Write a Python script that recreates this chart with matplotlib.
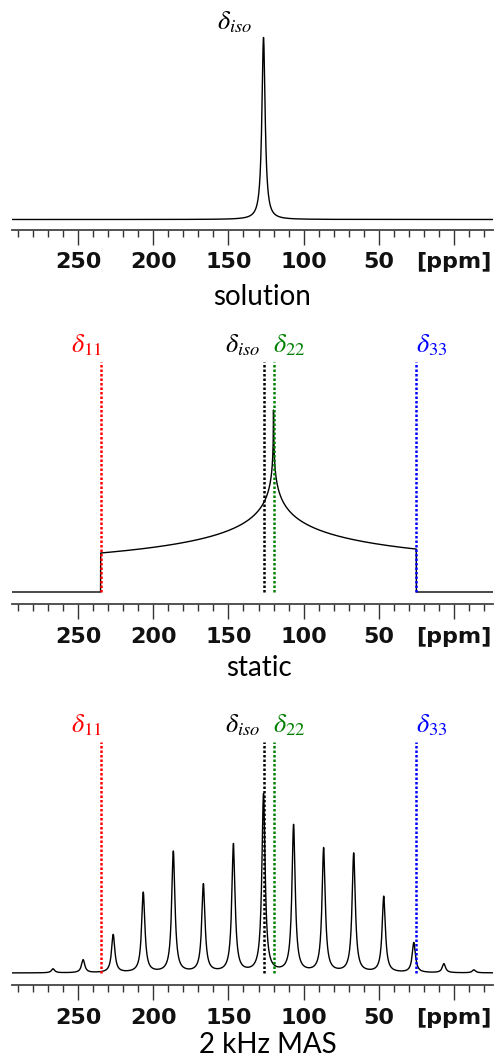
import numpy as np
import matplotlib
matplotlib.use("Agg")
from matplotlib import pyplot as plt

# principal components of the chemical shift tensor [ppm]
d11 = 235.0
d22 = 120.0
d33 = 25.0
d_iso = (d11 + d22 + d33) / 3.0

# solution peak height (arbitrary units)
sol_height = 182.0

# static powder pattern: height at the d11 edge and the clipped top at d22
static_edge = 39.0
static_top = 182.0

# 2 kHz MAS spinning sidebands: order and height
sb_spacing = 20.0  # ppm, 2 kHz
sb_order = [7, 6, 5, 4, 3, 2, 1, 0, -1, -2, -3, -4, -5, -6, -7]
sb_height = [4, 13, 38, 80, 121, 88, 128, 178, 147, 124, 119, 76, 30, 9, 3]

tick_pos = [250, 200, 150, 100, 50, 0]
tick_lab = ["250", "200", "150", "100", "50", "[ppm]"]
titles = ["solution", "static", "2 kHz MAS"]

W, H = 498, 1063
x_left, x_right = 294.0, -26.0
lw_ppm = 1.3


def lorentz(x, x0, h, w):
    return h / (1.0 + ((x - x0) / w) ** 2)


def ellipk(m):
    a = np.ones_like(m)
    b = np.sqrt(1.0 - m)
    for _ in range(60):
        a, b = (a + b) / 2.0, np.sqrt(a * b)
    return np.pi / (2.0 * a)


def powder(x, s11, s22, s33):
    out = np.zeros_like(x)
    with np.errstate(divide="ignore", invalid="ignore"):
        hi = (x <= s11) & (x >= s22)
        m = (s11 - x[hi]) * (s22 - s33) / ((x[hi] - s33) * (s11 - s22))
        out[hi] = ellipk(np.clip(m, 0, 1)) / (np.pi * np.sqrt((x[hi] - s33) * (s11 - s22)))
        lo = (x < s22) & (x >= s33)
        m = (x[lo] - s33) * (s11 - s22) / ((s11 - x[lo]) * (s22 - s33))
        out[lo] = ellipk(np.clip(m, 0, 1)) / (np.pi * np.sqrt((s11 - x[lo]) * (s22 - s33)))
    out[~np.isfinite(out)] = 1e9
    return out


x = np.linspace(x_right, x_left, 6400)

y_sol = lorentz(x, d_iso, sol_height, lw_ppm)

edge_val = 1.0 / (2.0 * np.sqrt((d11 - d33) * (d11 - d22)))
y_static = powder(x, d11, d22, d33) * static_edge / edge_val
y_static = np.minimum(y_static, static_top)

y_mas = np.zeros_like(x)
for k, h in zip(sb_order, sb_height):
    y_mas += lorentz(x, d_iso + k * sb_spacing, h, lw_ppm)

plt.rcParams["mathtext.fontset"] = "stix"

fig = plt.figure(figsize=(W / 100.0, H / 100.0), dpi=100)


def make_axes(spine_y, top_y, base_y):
    # pixel rows measured from the top of the image
    ax = fig.add_axes([12.0 / W, (H - spine_y) / H, (493.0 - 12.0) / W, (spine_y - top_y) / H])
    ax.set_ylim(-(spine_y - base_y), base_y - top_y)
    ax.set_xlim(x_left, x_right)
    for s in ["left", "right", "top"]:
        ax.spines[s].set_visible(False)
    ax.spines["bottom"].set_color("#444444")
    ax.spines["bottom"].set_linewidth(1.3)
    ax.set_yticks([])
    ax.set_xticks(tick_pos)
    ax.set_xticklabels(tick_lab, fontsize=16, fontweight="bold", color="#111111")
    ax.set_xticks(np.arange(290, -30, -10), minor=True)
    ax.tick_params(axis="x", which="major", direction="out", length=10.5, width=1.0,
                   color="#333333", pad=6)
    ax.tick_params(axis="x", which="minor", direction="out", length=5, width=1.0,
                   color="#333333")
    return ax


ax1 = make_axes(229.5, 0, 219.5)
ax2 = make_axes(604, 320, 592)
ax3 = make_axes(985, 700, 973)

ax1.plot(x, y_sol, color="black", lw=1.0)
ax2.plot(x, y_static, color="black", lw=1.0)
ax3.plot(x, y_mas, color="black", lw=1.0)

ax1.text(d_iso + 7.5, 197, r"$\delta_{iso}$", fontsize=19, ha="right", va="center")

lines = [(d11, "red", r"$\delta_{11}$", "right", -1.0),
         (d_iso, "black", r"$\delta_{iso}$", "right", 2.5),
         (d22, "green", r"$\delta_{22}$", "left", 0.5),
         (d33, "blue", r"$\delta_{33}$", "left", 0.5)]

for ax, top, lab_y in [(ax2, 230, 247), (ax3, 231, 248)]:
    for pos, col, lab, ha, off in lines:
        ax.plot([pos, pos], [0, top], color=col, lw=1.8, linestyle=(0, (1, 0.8)), zorder=3)
        ax.text(pos + off, lab_y, lab, color=col, fontsize=19, ha=ha, va="center")

title_pos = [(262, 297), (259, 668), (268, 1045)]
for t, (px, py) in zip(titles, title_pos):
    fig.text(px / W, 1 - py / H, t, fontsize=20, family="Lato", ha="center", va="center")

fig.savefig("out.png", dpi=100)
